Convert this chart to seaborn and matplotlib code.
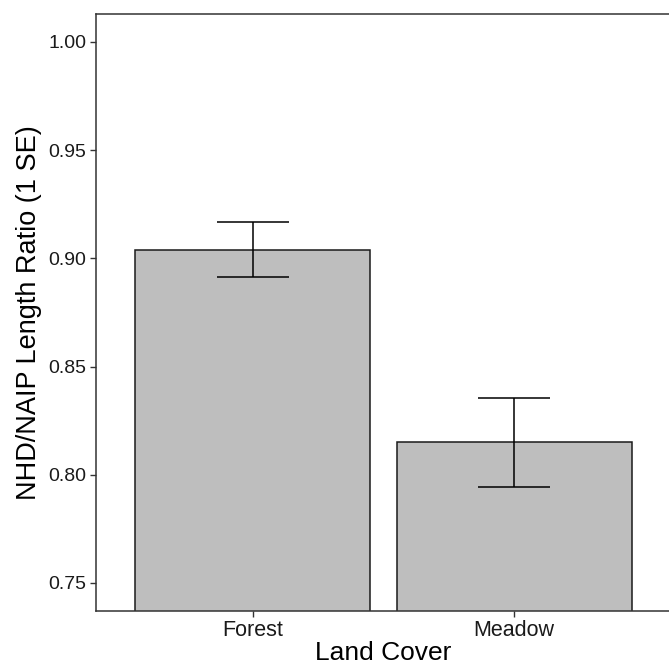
import matplotlib
matplotlib.use("Agg")
import matplotlib.pyplot as plt
import seaborn as sns
import pandas as pd

# values
land_cover = ["Forest", "Meadow"]
ratio_mean = [0.904, 0.815]
ratio_se = [0.0127, 0.0206]
y_ticks = [0.75, 0.80, 0.85, 0.90, 0.95, 1.00]

df = pd.DataFrame({"Land Cover": land_cover, "ratio": ratio_mean, "se": ratio_se})

sns.set_style("white")
plt.rcParams["font.family"] = ["Liberation Sans", "DejaVu Sans"]

fig = plt.figure(figsize=(6.69, 6.65), dpi=100)
ax = fig.add_axes([0.1435, 0.0817, 0.8595, 0.8973])

sns.barplot(data=df, x="Land Cover", y="ratio", color="#bebebe", saturation=1,
            width=0.9, edgecolor="#1a1a1a", linewidth=1.1, errorbar=None, ax=ax)
ax.errorbar(x=range(len(df)), y=df["ratio"], yerr=df["se"], fmt="none",
            ecolor="black", elinewidth=1.1, capsize=26, capthick=1.1)

ax.set_xlim(-0.6, 1.6)
ax.set_ylim(0.7372, 1.0129)
ax.set_yticks(y_ticks)
ax.set_yticklabels([f"{t:.2f}" for t in y_ticks])

for side in ["top", "left", "bottom", "right"]:
    ax.spines[side].set_visible(True)
    ax.spines[side].set_color("#333333")
    ax.spines[side].set_linewidth(1.1)

ax.tick_params(axis="both", length=4, width=1, color="#333333",
               labelcolor="#1a1a1a", left=True, bottom=True)
ax.tick_params(axis="y", labelsize=14, pad=3)
ax.tick_params(axis="x", labelsize=15.5, pad=2.5)
ax.set_xlabel("Land Cover", fontsize=19, labelpad=0, color="black")
ax.set_ylabel("NHD/NAIP Length Ratio (1 SE)", fontsize=19.5, labelpad=4.5, color="black")

fig.savefig("out.png", dpi=100)
